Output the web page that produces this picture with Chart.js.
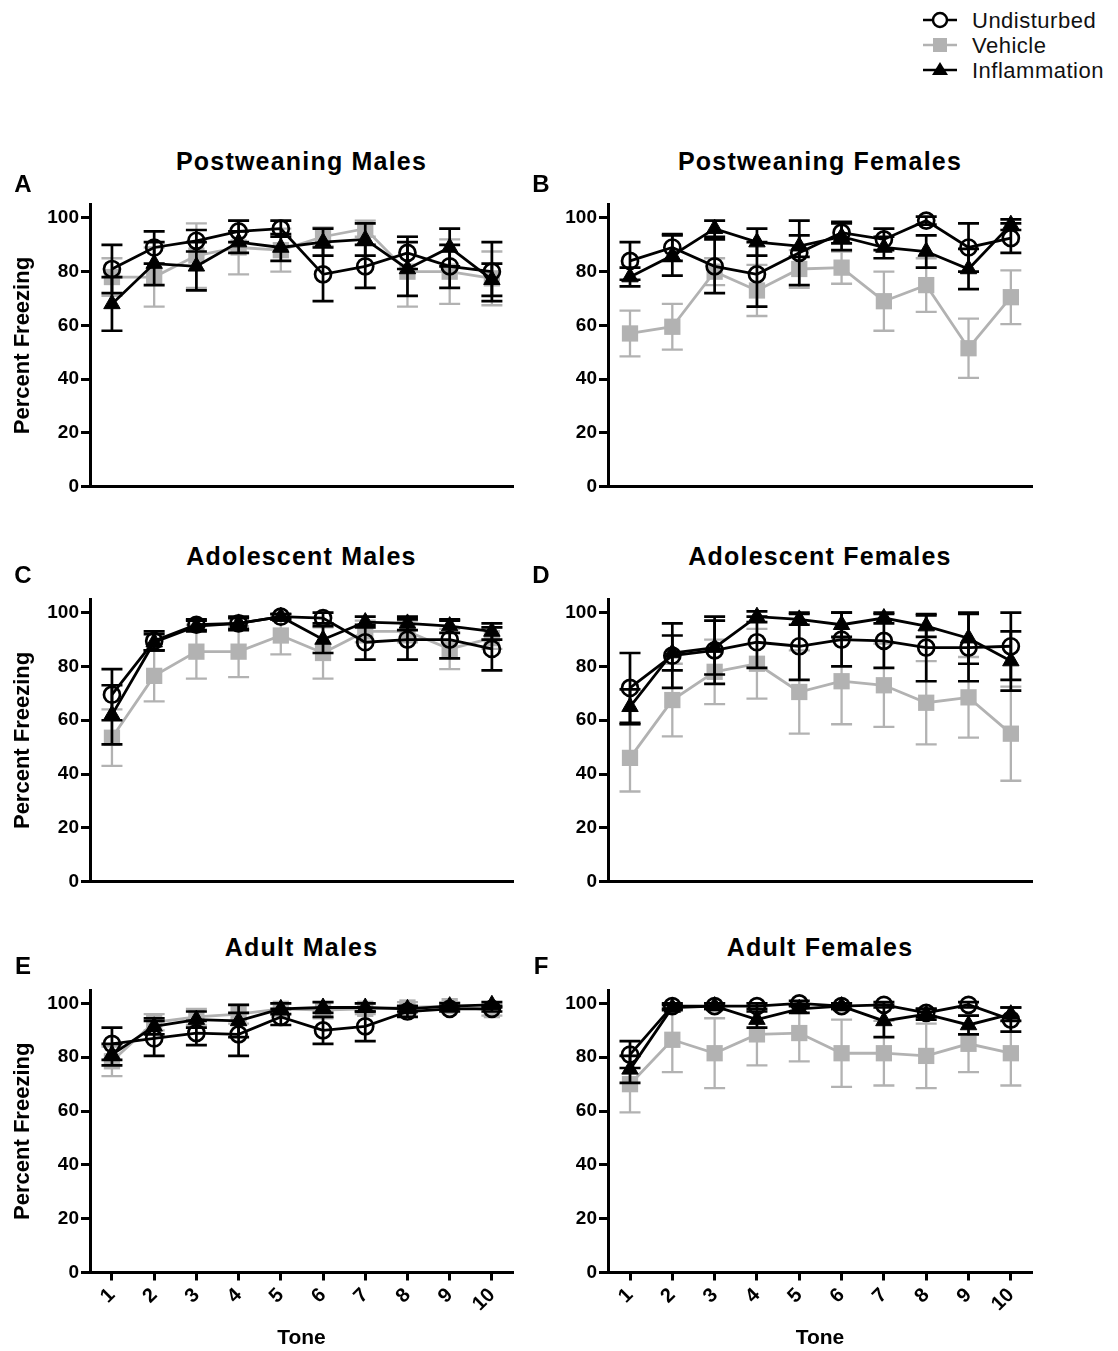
<!DOCTYPE html>
<html>
<head>
<meta charset="utf-8">
<script src="https://cdn.jsdelivr.net/npm/chart.js@4.4.0/dist/chart.umd.min.js"></script>
<style>
  html, body { margin: 0; padding: 0; background: #fff; }
  body { width: 1118px; height: 1351px; position: relative; overflow: hidden; font-family: "Liberation Sans", Arial, Helvetica, sans-serif; }
  canvas { position: absolute; }
  .title { position: absolute; transform: translate(-50%, -50%); font-size: 25px; font-weight: bold; letter-spacing: 1.2px; line-height: 1; white-space: nowrap; color: #000; z-index: 2; }
  .letter { position: absolute; transform: translate(-50%, -50%); font-size: 24px; font-weight: bold; line-height: 1; color: #000; z-index: 2; }
  #legend { position: absolute; left: 915px; top: 5px; z-index: 2; }
</style>
</head>
<body>
<svg id="legend" width="203" height="80"></svg>

<script>
// Tone numbers on the x axis
const tones = [1, 2, 3, 4, 5, 6, 7, 8, 9, 10];
const yTicks = [0, 20, 40, 60, 80, 100];
const seriesNames = ['Undisturbed', 'Vehicle', 'Inflammation'];

// A - Postweaning Males (mean, sem)
const pwMalesUnd = [81, 89, 91.5, 95, 96, 79, 82, 87, 82, 80];
const pwMalesUndSem = [9, 6, 4, 4, 3, 10, 8, 6, 8, 11];
const pwMalesVeh = [78, 78, 86, 89, 88, 93, 96, 80, 80, 77.5];
const pwMalesVehSem = [7, 11, 12, 10, 8, 3.5, 3, 13, 12, 10];
const pwMalesInf = [68, 83, 82, 91, 89, 91, 92, 81, 89, 77];
const pwMalesInfSem = [10, 8, 9, 4, 5, 5, 6, 10, 7, 6];

// B - Postweaning Females
const pwFemalesUnd = [84, 89, 82, 79, 87, 94.5, 92, 99, 89, 92.5];
const pwFemalesUndSem = [7, 5, 10, 12, 12, 4, 4, 1.5, 9, 5.5];
const pwFemalesVeh = [57, 59.5, 80, 73, 81, 81.5, 69, 75, 51.5, 70.5];
const pwFemalesVehSem = [8.5, 8.5, 5, 9.5, 7, 6, 11, 10, 11, 10];
const pwFemalesInf = [78, 86, 96, 91, 89.5, 93, 89, 87.5, 81, 97.5];
const pwFemalesInfSem = [3.5, 7.5, 3, 5, 4, 5, 4, 6, 7.5, 2];

// C - Adolescent Males
const adoMalesUnd = [69.5, 89.5, 95.5, 96, 98.5, 98, 89, 90, 90, 86.5];
const adoMalesUndSem = [9.5, 3.5, 2, 2.5, 1, 2, 6.5, 7.5, 7, 8];
const adoMalesVeh = [53.5, 76.5, 85.5, 85.5, 91.5, 85, 93, 93, 86.5, 90.5];
const adoMalesVehSem = [10.5, 9.5, 10, 9.5, 7, 9.5, 4, 4, 7.5, 4];
const adoMalesInf = [62, 89, 95, 96, 98.5, 90, 96.5, 96, 95, 93];
const adoMalesInfSem = [11, 3, 2, 2, 1, 5, 2, 2.5, 2.5, 3];

// D - Adolescent Females
const adoFemalesUnd = [72, 84, 86, 89, 87.5, 90, 89.5, 87, 87, 87.5];
const adoFemalesUndSem = [13, 12, 12.5, 9.5, 12.5, 10, 10, 12.5, 12.5, 12.5];
const adoFemalesVeh = [46, 67.5, 78, 81, 70.5, 74.5, 73, 66.5, 68.5, 55];
const adoFemalesVehSem = [12.5, 13.5, 12, 13, 15.5, 16, 15.5, 15.5, 15, 17.5];
const adoFemalesInf = [65, 85, 87, 98.5, 97.5, 95.5, 98, 95, 90.5, 82];
const adoFemalesInfSem = [6.5, 6.5, 10, 2, 2, 4.5, 2, 4, 9.5, 11];

// E - Adult Males
const adultMalesUnd = [85, 87, 89, 88.5, 95, 90, 91.5, 97, 98, 98];
const adultMalesUndSem = [6, 6.5, 4.5, 8, 3, 5, 5.5, 2, 1, 1];
const adultMalesVeh = [78.5, 93, 95, 96, 98, 97.5, 98, 98.5, 99, 97.5];
const adultMalesVehSem = [5.5, 3, 3, 3.5, 2, 3, 2, 2, 1.5, 2];
const adultMalesInf = [81, 91.5, 94, 93.5, 98, 98.5, 98.5, 98, 99, 99.5];
const adultMalesInfSem = [4, 3, 3, 6, 2, 2, 1.5, 1, 1, 1];

// F - Adult Females
const adultFemalesUnd = [81, 99, 99, 99, 100, 99, 99.5, 96.5, 99.5, 94];
const adultFemalesUndSem = [5, 1, 1, 1, 1, 1, 1, 1.5, 1, 4.5];
const adultFemalesVeh = [70, 86.5, 81.5, 88.5, 89, 81.5, 81.5, 80.5, 85, 81.5];
const adultFemalesVehSem = [10.5, 12, 13, 11.5, 10.5, 12.5, 12, 12, 10.5, 12];
const adultFemalesInf = [75.5, 98.5, 99, 94, 98, 99, 93.5, 96, 92, 96];
const adultFemalesInfSem = [5, 1, 1, 3, 1.5, 1, 6, 2, 3.5, 2.5];

const FONT = '"Liberation Sans", Arial, Helvetica, sans-serif';
const GRAY = '#b2b2b2';

// panels, in reading order
const panels = [
  { letter: 'A', title: 'Postweaning Males', col: 0, row: 0, und: [pwMalesUnd, pwMalesUndSem], veh: [pwMalesVeh, pwMalesVehSem], inf: [pwMalesInf, pwMalesInfSem] },
  { letter: 'B', title: 'Postweaning Females', col: 1, row: 0, und: [pwFemalesUnd, pwFemalesUndSem], veh: [pwFemalesVeh, pwFemalesVehSem], inf: [pwFemalesInf, pwFemalesInfSem] },
  { letter: 'C', title: 'Adolescent Males', col: 0, row: 1, und: [adoMalesUnd, adoMalesUndSem], veh: [adoMalesVeh, adoMalesVehSem], inf: [adoMalesInf, adoMalesInfSem] },
  { letter: 'D', title: 'Adolescent Females', col: 1, row: 1, und: [adoFemalesUnd, adoFemalesUndSem], veh: [adoFemalesVeh, adoFemalesVehSem], inf: [adoFemalesInf, adoFemalesInfSem] },
  { letter: 'E', title: 'Adult Males', col: 0, row: 2, und: [adultMalesUnd, adultMalesUndSem], veh: [adultMalesVeh, adultMalesVehSem], inf: [adultMalesInf, adultMalesInfSem] },
  { letter: 'F', title: 'Adult Females', col: 1, row: 2, und: [adultFemalesUnd, adultFemalesUndSem], veh: [adultFemalesVeh, adultFemalesVehSem], inf: [adultFemalesInf, adultFemalesInfSem] }
];

const cols = [
  { left: 0, width: 545, yWidth: 90, padRight: 32, center: 301.5, letterX: 23 },
  { left: 560, width: 504, yWidth: 48, padRight: 32, center: 820, letterX: 541 }
];
const rows = [
  { top: 184, height: 316, padTop: 20.5, xHeight: 13, titleY: 161, letterY: 184 },
  { top: 579, height: 316, padTop: 20.2, xHeight: 13.3, titleY: 556, letterY: 575 },
  { top: 970, height: 381, padTop: 20, xHeight: 78.5, titleY: 947, letterY: 966 }
];

// error bars drawn just under each dataset
const errorBars = {
  id: 'errorBars',
  beforeDatasetDraw(chart, args) {
    const ds = chart.data.datasets[args.index];
    if (!ds.sem) return;
    const ctx = chart.ctx;
    const y = chart.scales.y;
    ctx.save();
    ctx.strokeStyle = ds.borderColor;
    ctx.lineWidth = ds.errWidth;
    args.meta.data.forEach((pt, i) => {
      const v = ds.data[i].y;
      const s = ds.sem[i];
      const top = y.getPixelForValue(v + s);
      const bot = y.getPixelForValue(v - s);
      ctx.beginPath();
      ctx.moveTo(pt.x, top); ctx.lineTo(pt.x, bot);
      ctx.moveTo(pt.x - 10.5, top); ctx.lineTo(pt.x + 10.5, top);
      ctx.moveTo(pt.x - 10.5, bot); ctx.lineTo(pt.x + 10.5, bot);
      ctx.stroke();
    });
    ctx.restore();
  }
};

function toPoints(vals) {
  return tones.map((t, i) => ({ x: t, y: vals[i] }));
}

function makePanel(p) {
  const c = cols[p.col];
  const r = rows[p.row];
  const bottomRow = p.row === 2;

  const canvas = document.createElement('canvas');
  canvas.width = c.width;
  canvas.height = r.height;
  canvas.style.left = c.left + 'px';
  canvas.style.top = r.top + 'px';
  canvas.style.width = c.width + 'px';
  canvas.style.height = r.height + 'px';
  document.body.appendChild(canvas);

  const t = document.createElement('div');
  t.className = 'title';
  t.textContent = p.title;
  t.style.left = c.center + 'px';
  t.style.top = r.titleY + 'px';
  document.body.appendChild(t);

  const l = document.createElement('div');
  l.className = 'letter';
  l.textContent = p.letter;
  l.style.left = c.letterX + 'px';
  l.style.top = r.letterY + 'px';
  document.body.appendChild(l);

  new Chart(canvas, {
    type: 'line',
    data: {
      datasets: [
        {
          label: seriesNames[2], data: toPoints(p.inf[0]), sem: p.inf[1],
          borderColor: '#000', backgroundColor: '#000', borderWidth: 2.8, errWidth: 2.7,
          pointStyle: 'triangle', pointRadius: 9.5, pointBackgroundColor: '#000', pointBorderWidth: 1
        },
        {
          label: seriesNames[0], data: toPoints(p.und[0]), sem: p.und[1],
          borderColor: '#000', backgroundColor: 'rgba(0,0,0,0)', borderWidth: 2.8, errWidth: 2.7,
          pointStyle: 'circle', pointRadius: 8, pointBackgroundColor: 'rgba(0,0,0,0)', pointBorderWidth: 2.7
        },
        {
          label: seriesNames[1], data: toPoints(p.veh[0]), sem: p.veh[1],
          borderColor: GRAY, backgroundColor: GRAY, borderWidth: 2.8, errWidth: 2.3,
          pointStyle: 'rect', pointRadius: 11.5, pointBackgroundColor: GRAY, pointBorderWidth: 0
        }
      ]
    },
    options: {
      responsive: false,
      animation: false,
      devicePixelRatio: 1,
      clip: false,
      layout: { padding: { left: 0, right: c.padRight, top: r.padTop, bottom: 0 } },
      plugins: { legend: { display: false }, tooltip: { enabled: false } },
      scales: {
        x: {
          type: 'linear',
          min: 0.48,
          max: 10.5,
          afterBuildTicks: s => { s.ticks = tones.map(v => ({ value: v })); },
          afterFit: s => { s.height = r.xHeight; },
          border: { display: true, color: '#000', width: 3 },
          grid: { display: true, drawOnChartArea: false, drawTicks: bottomRow, tickLength: 8, tickWidth: 3, tickColor: '#000' },
          ticks: {
            display: bottomRow, autoSkip: false, maxRotation: 45, minRotation: 45,
            color: '#000', padding: 3, font: { family: FONT, size: 20, weight: 'bold' }
          },
          title: {
            display: bottomRow, text: 'Tone', color: '#000',
            font: { family: FONT, size: 21, weight: 'bold' }, padding: { top: 0, bottom: 0 }
          }
        },
        y: {
          min: 0,
          max: 105,
          afterBuildTicks: s => { s.ticks = yTicks.map(v => ({ value: v })); },
          afterFit: s => { s.width = c.yWidth; },
          border: { display: true, color: '#000', width: 3 },
          grid: { display: true, drawOnChartArea: false, drawTicks: true, tickLength: 9, tickWidth: 3, tickColor: '#000' },
          ticks: { color: '#000', padding: 2, font: { family: FONT, size: 19, weight: 'bold' } },
          title: {
            display: p.col === 0, text: 'Percent Freezing', color: '#000',
            font: { family: FONT, size: 22, weight: 'bold' }, padding: { top: 10, bottom: 0 }
          }
        }
      }
    },
    plugins: [errorBars]
  });
}

panels.forEach(makePanel);

// legend (top right)
const legendRows = [
  { name: seriesNames[0], y: 15, color: '#000', shape: 'circle' },
  { name: seriesNames[1], y: 40, color: GRAY, shape: 'rect' },
  { name: seriesNames[2], y: 65, color: '#000', shape: 'triangle' }
];
const svg = document.getElementById('legend');
svg.innerHTML = legendRows.map(it => {
  let mark = '';
  if (it.shape === 'circle') mark = `<circle cx="25" cy="${it.y}" r="7" fill="#fff" stroke="#000" stroke-width="2.5"/>`;
  if (it.shape === 'rect') mark = `<rect x="18" y="${it.y - 7}" width="14" height="14" fill="${GRAY}"/>`;
  if (it.shape === 'triangle') mark = `<polygon points="25,${it.y - 8} 33,${it.y + 5} 17,${it.y + 5}" fill="#000"/>`;
  return `<line x1="8" y1="${it.y}" x2="42" y2="${it.y}" stroke="${it.color}" stroke-width="2.5"/>` + mark +
    `<text x="57" y="${it.y + 8}" font-family='${FONT}' font-size="22" letter-spacing="0.5" fill="#111">${it.name}</text>`;
}).join('');
</script>
</body>
</html>
